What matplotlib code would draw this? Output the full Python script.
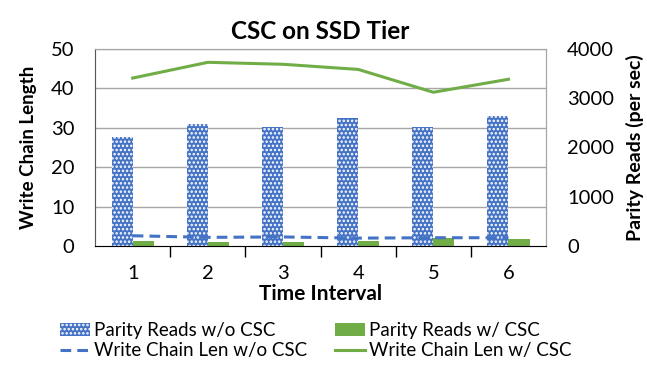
import matplotlib.pyplot as plt
import numpy as np

plt.rcParams['font.family'] = ['Lato', 'DejaVu Sans']

intervals = ['1', '2', '3', '4', '5', '6']
reads_without_csc = [2220, 2480, 2410, 2605, 2410, 2640]
reads_with_csc = [100, 85, 90, 100, 160, 135]
chain_without_csc = [2.6, 2.2, 2.3, 2.0, 2.1, 2.1]
chain_with_csc = [42.6, 46.6, 46.1, 44.8, 39.0, 42.3]

blue = '#4472C4'
green = '#70AD47'

fig, ax = plt.subplots(figsize=(6.47, 3.65), dpi=100)
fig.subplots_adjust(left=0.147, right=0.844, top=0.866, bottom=0.326)
ax2 = ax.twinx()

x = np.arange(len(intervals))
w = 0.28
plt.rcParams['hatch.linewidth'] = 1.2
b1 = ax2.bar(x - w / 2, reads_without_csc, w, color=blue, edgecolor='white',
             hatch='....', linewidth=0, label='Parity Reads w/o CSC')
b2 = ax2.bar(x + w / 2, reads_with_csc, w, color=green, linewidth=0,
             label='Parity Reads w/ CSC')

l1, = ax.plot(x, chain_without_csc, color=blue, lw=2.2, dashes=(3.5, 2),
              label='Write Chain Len w/o CSC')
l2, = ax.plot(x, chain_with_csc, color=green, lw=2.2,
              label='Write Chain Len w/ CSC')
ax.set_zorder(2)
ax.patch.set_visible(False)

ax.set_xlim(-0.5, 5.5)
ax.set_ylim(0, 50)
ax.set_yticks(range(0, 51, 10))
ax2.set_ylim(0, 4000)
ax2.set_yticks(range(0, 4001, 1000))
for v in range(10, 51, 10):
    ax2.axhline(v * 80, color='#a6a6a6', lw=1, zorder=0)

ax.set_xticks(x)
ax.set_xticklabels(intervals)
ax.set_xticks(np.arange(0.5, 5, 1), minor=True)
ax.tick_params(axis='x', which='major', length=0, labelsize=14.5, pad=14)
ax.tick_params(axis='x', which='minor', length=8, width=1, direction='out')
ax.tick_params(axis='y', length=0, labelsize=14.5, pad=15)
ax2.tick_params(axis='y', length=0, labelsize=14.5, pad=15)

for a in (ax, ax2):
    for s in a.spines.values():
        s.set_color('#a6a6a6')
ax.spines['bottom'].set_color('black')
ax.spines['left'].set_color('#595959')

ax.set_title('CSC on SSD Tier', fontsize=17.5, fontweight='bold', pad=7)
ax.set_xlabel('Time Interval', fontsize=15, fontweight='bold', labelpad=1)
ax.set_ylabel('Write Chain Length', fontsize=13.5, fontweight='bold', labelpad=10)
ax2.set_ylabel('Parity Reads (per sec)', fontsize=14, fontweight='bold', labelpad=9)

fig.legend([b1, l1, b2, l2],
           ['Parity Reads w/o CSC', 'Write Chain Len w/o CSC',
            'Parity Reads w/ CSC', 'Write Chain Len w/ CSC'],
           loc='lower left', bbox_to_anchor=(0.073, -0.02), ncol=2, frameon=False,
           fontsize=13.5, handlelength=1.6, handletextpad=0.2, columnspacing=1.5,
           labelspacing=0.15, borderpad=0.2)

plt.savefig('out.png')
